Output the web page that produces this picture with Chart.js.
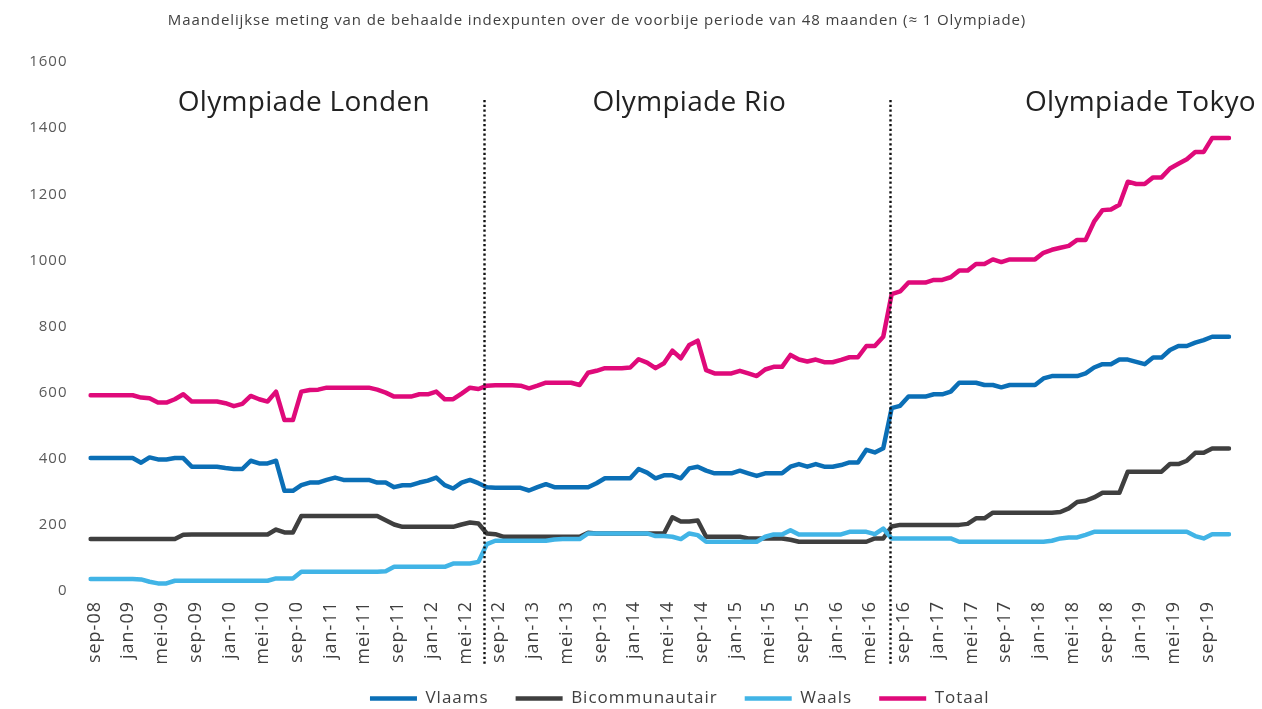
<!DOCTYPE html>
<html>
<head>
<meta charset="utf-8">
<title>Indexpunten per Olympiade</title>
<script src="https://cdn.jsdelivr.net/npm/chart.js@4.4.1/dist/chart.umd.min.js"></script>
<style>
  html, body { margin: 0; padding: 0; background: #fff; }
  #wrap { width: 1262px; height: 709px; position: relative; }
</style>
</head>
<body>
<div id="wrap"><canvas id="chart"></canvas></div>
<script>
/* ── Data (monthly, sep-08 .. dec-19) ── */
var monthNames = ['jan', 'feb', 'mrt', 'apr', 'mei', 'jun', 'jul', 'aug', 'sep', 'okt', 'nov', 'dec'];
var firstMonth = 8;   // sep
var firstYear = 8;    // 2008
var monthCount = 136;

var vlaams = [
  402, 402, 402, 402, 402, 402, 388, 404, 398, 398, 402, 402,
  376, 376, 376, 376, 372, 369, 369, 394, 386, 386, 394, 303,
  303, 320, 328, 328, 336, 343, 336, 336, 336, 336, 328, 328,
  314, 320, 320, 328, 334, 343, 320, 310, 328, 336, 326, 314,
  312, 312, 312, 312, 304, 314, 323, 314, 314, 314, 314, 314,
  326, 341, 341, 341, 341, 369, 358, 341, 350, 350, 341, 371,
  376, 364, 356, 356, 356, 364, 356, 348, 356, 356, 356, 376,
  384, 376, 384, 376, 376, 381, 389, 389, 427, 419, 432, 553,
  560, 588, 588, 588, 595, 595, 603, 630, 630, 630, 623, 623,
  616, 623, 623, 623, 623, 643, 650, 650, 650, 650, 658, 676,
  686, 686, 700, 700, 693, 686, 706, 706, 729, 741, 741, 751,
  759, 769, 769, 769
];

var bicommunautair = [
  157, 157, 157, 157, 157, 157, 157, 157, 157, 157, 157, 170,
  171, 171, 171, 171, 171, 171, 171, 171, 171, 171, 186, 177,
  177, 227, 227, 227, 227, 227, 227, 227, 227, 227, 227, 214,
  201, 194, 194, 194, 194, 194, 194, 194, 201, 207, 204, 174,
  172, 164, 164, 164, 164, 164, 164, 164, 164, 164, 164, 176,
  174, 174, 174, 174, 174, 174, 174, 174, 174, 223, 210, 210,
  213, 164, 164, 164, 164, 164, 159, 159, 159, 159, 159, 155,
  149, 149, 149, 149, 149, 149, 149, 149, 149, 159, 159, 195,
  200, 200, 200, 200, 200, 200, 200, 200, 203, 220, 220, 237,
  237, 237, 237, 237, 237, 237, 237, 239, 250, 269, 273, 283,
  297, 297, 297, 361, 361, 361, 361, 361, 384, 384, 394, 418,
  418, 431, 431, 431
];

var waals = [
  36, 36, 36, 36, 36, 36, 35, 28, 23, 23, 31, 31,
  31, 31, 31, 31, 31, 31, 31, 31, 31, 31, 38, 38,
  38, 58, 58, 58, 58, 58, 58, 58, 58, 58, 58, 60,
  73, 73, 73, 73, 73, 73, 73, 83, 83, 83, 88, 142,
  152, 152, 152, 152, 152, 152, 152, 156, 157, 157, 157, 174,
  174, 174, 174, 174, 174, 174, 174, 166, 166, 164, 157, 174,
  169, 149, 149, 149, 149, 149, 149, 149, 164, 171, 171, 184,
  171, 171, 171, 171, 171, 171, 179, 179, 179, 172, 189, 159,
  159, 159, 159, 159, 159, 159, 159, 149, 149, 149, 149, 149,
  149, 149, 149, 149, 149, 149, 152, 159, 162, 162, 170, 179,
  179, 179, 179, 179, 179, 179, 179, 179, 179, 179, 179, 166,
  159, 172, 172, 172
];

var totaal = [
  592, 592, 592, 592, 592, 592, 585, 583, 570, 570, 580, 595,
  573, 573, 573, 573, 568, 559, 566, 590, 580, 573, 603, 517,
  517, 603, 608, 609, 615, 615, 615, 615, 615, 615, 609, 600,
  588, 588, 588, 595, 595, 603, 580, 580, 597, 615, 611, 621,
  622, 622, 622, 621, 613, 621, 630, 630, 630, 630, 623, 660,
  666, 674, 674, 674, 676, 701, 691, 674, 689, 727, 704, 744,
  757, 668, 658, 658, 658, 666, 658, 650, 670, 678, 678, 714,
  700, 694, 700, 692, 692, 699, 707, 707, 741, 741, 769, 898,
  906, 933, 933, 933, 941, 941, 949, 969, 969, 989, 989, 1003,
  995, 1003, 1003, 1003, 1003, 1023, 1032, 1038, 1044, 1062, 1062, 1117,
  1152, 1154, 1168, 1238, 1231, 1231, 1251, 1251, 1278, 1292, 1306, 1328,
  1328, 1370, 1370, 1370
];

var olympiades = ['Olympiade Londen', 'Olympiade Rio', 'Olympiade Tokyo'];
var chartTitle = 'Maandelijkse meting van de behaalde indexpunten over de voorbije periode van 48 maanden (\u2248 1 Olympiade)';
var yTicks = [0, 200, 400, 600, 800, 1000, 1200, 1400, 1600];

/* ── Category labels: sep-08, okt-08, ... ── */
var months = [];
for (var i = 0; i < monthCount; i++) {
  var m = (firstMonth + i) % 12;
  var yr = firstYear + Math.floor((firstMonth + i) / 12);
  months.push(monthNames[m] + '-' + (yr < 10 ? '0' + yr : yr));
}

Chart.defaults.font.family = "'Open Sans', sans-serif";
Chart.defaults.color = '#595959';

// The source font is set wide, so all canvas text gets a little tracking
var spacingPlugin = {
  id: 'spacing',
  beforeLayout: function (chart) { chart.ctx.letterSpacing = '1px'; },
  // legend sits a bit right of the plot centre in the original
  afterLayout: function (chart) {
    if (chart.legend) {
      chart.legend.left += 20;
      chart.legend.right += 20;
    }
  },
  beforeDraw: function (chart) { chart.ctx.letterSpacing = '1px'; }
};

// Dotted period separators, Olympiade captions and the top title
var periodPlugin = {
  id: 'periods',
  afterDatasetsDraw: function (chart) {
    var ctx = chart.ctx;
    var x = chart.scales.x;
    var y = chart.scales.y;
    ctx.save();

    ctx.strokeStyle = '#111';
    ctx.lineWidth = 2.4;
    ctx.setLineDash([2.2, 2.6]);
    [46.7, 94.8].forEach(function (v) {
      var px = Math.round(x.getPixelForValue(v)) + 0.5;
      ctx.beginPath();
      ctx.moveTo(px, 100);
      ctx.lineTo(px, 664);
      ctx.stroke();
    });
    ctx.setLineDash([]);

    ctx.fillStyle = '#222';
    ctx.font = "28px 'Open Sans', sans-serif";
    ctx.letterSpacing = '0.3px';
    ctx.textBaseline = 'middle';
    var capY = y.getPixelForValue(1475);
    ctx.textAlign = 'center';
    ctx.fillText(olympiades[0], x.getPixelForValue(25.3), capY);
    ctx.fillText(olympiades[1], x.getPixelForValue(71), capY);
    ctx.textAlign = 'right';
    ctx.fillText(olympiades[2], chart.width - 6, capY);

    ctx.fillStyle = '#404040';
    ctx.font = "15px 'Open Sans', sans-serif";
    ctx.letterSpacing = '0.9px';
    ctx.textAlign = 'center';
    ctx.fillText(chartTitle, 597, 21);
    ctx.restore();
  }
};

function lineSet(label, data, color, order) {
  return {
    label: label,
    data: data,
    borderColor: color,
    backgroundColor: color,
    borderWidth: 4.5,
    borderCapStyle: 'round',
    borderJoinStyle: 'round',
    pointRadius: 0,
    tension: 0,
    fill: false,
    order: order
  };
}

var ctx = document.getElementById('chart').getContext('2d');
new Chart(ctx, {
  type: 'line',
  data: {
    labels: months,
    datasets: [
      lineSet('Vlaams', vlaams, '#0b6fb6', 0),
      lineSet('Bicommunautair', bicommunautair, '#3f3f3f', 2),
      lineSet('Waals', waals, '#41b4e6', 1),
      lineSet('Totaal', totaal, '#df0a7a', 3)
    ]
  },
  options: {
    responsive: true,
    maintainAspectRatio: false,
    animation: false,
    layout: { padding: { top: 62, right: 33, left: 0, bottom: -8 } },
    plugins: {
      legend: {
        position: 'bottom',
        fullSize: false,
        labels: {
          usePointStyle: true,
          pointStyle: 'line',
          pointStyleWidth: 47,
          padding: 27,
          color: '#404040',
          font: { size: 17 },
          sort: function (a, b) { return a.datasetIndex - b.datasetIndex; }
        }
      },
      tooltip: { enabled: false }
    },
    scales: {
      x: {
        grid: { display: false },
        border: { display: false },
        afterFit: function (scale) { scale.height = 72; },
        ticks: {
          autoSkip: false,
          maxRotation: 90,
          minRotation: 90,
          padding: 2,
          labelOffset: 4,
          color: '#404040',
          font: { size: 18 },
          callback: function (v, i) { return i % 4 === 0 ? months[i] : ''; }
        }
      },
      y: {
        min: 0,
        max: 1600,
        grid: { display: false },
        border: { display: false },
        afterFit: function (scale) { scale.width = 90.5; },
        afterBuildTicks: function (scale) {
          scale.ticks = yTicks.map(function (v) { return { value: v }; });
        },
        ticks: {
          padding: 15,
          color: '#595959',
          font: { size: 15 },
          callback: function (v) { return String(v); }
        }
      }
    }
  },
  plugins: [spacingPlugin, periodPlugin]
});
</script>
</body>
</html>
